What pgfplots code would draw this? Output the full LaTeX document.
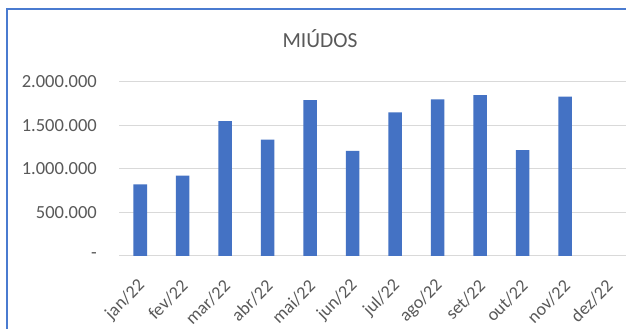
\documentclass[border=0pt]{standalone}
\usepackage{fontspec}
\setmainfont{Carlito}
\usepackage{pgfplots}
\pgfplotsset{compat=1.18}
\definecolor{barblue}{HTML}{4472C4}
\definecolor{txtgray}{HTML}{595959}
\definecolor{gridgray}{HTML}{D9D9D9}
\definecolor{frameblue}{HTML}{4A7BD0}
\begin{document}
\begin{tikzpicture}[x=1pt,y=1pt]
\path[use as bounding box] (0,0) rectangle (626,329);
\fill[white] (0,0) rectangle (626,329);
\draw[frameblue, line width=2pt] (7,0) -- (7,320) -- (626,320);
\node[font=\fontsize{21.5}{24}\selectfont, text=txtgray] at (320,290) {MIÚDOS};
\begin{axis}[
  at={(119pt,73pt)}, anchor=south west, scale only axis,
  width=507pt, height=174.3pt,
  xmin=-0.5, xmax=11.43, ymin=0, ymax=2000000,
  ybar, bar width=13.5pt,
  axis line style={draw=none},
  major tick length=0pt,
  ymajorgrids, grid style={gridgray, line width=1pt},
  ytick={0,500000,1000000,1500000,2000000},
  yticklabels={-\hspace{8pt},500.000,1.000.000,1.500.000,2.000.000},
  scaled y ticks=false,
  xtick={0,...,11},
  xticklabels={jan/22,fev/22,mar/22,abr/22,mai/22,jun/22,jul/22,ago/22,set/22,out/22,nov/22,dez/22},
  y tick label style={anchor=east, inner sep=0pt, xshift=-22pt, font=\fontsize{18.5}{20}\selectfont, text=txtgray},
  x tick label style={xshift=2pt, yshift=-27pt, rotate=45, anchor=east, inner sep=0pt, font=\fontsize{18}{20}\selectfont, text=txtgray},
  clip=false,
]
\addplot[fill=barblue, draw=none] coordinates {
(0,823000) (1,921000) (2,1549000) (3,1334000) (4,1790000) (5,1205000)
(6,1649000) (7,1798000) (8,1847000) (9,1216000) (10,1828000)
};
\end{axis}
\end{tikzpicture}
\end{document}
